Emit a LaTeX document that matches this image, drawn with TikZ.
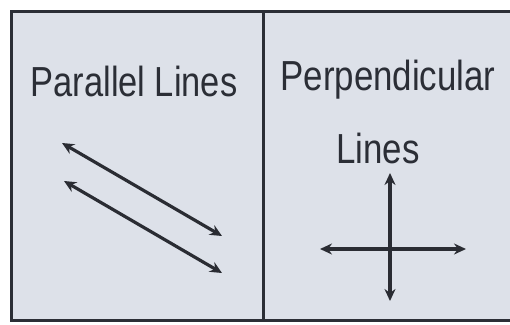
\documentclass[tikz,border=0pt]{standalone}
\usepackage{fontspec}
\setmainfont{Liberation Sans}
\usetikzlibrary{arrows.meta}
\definecolor{paper}{HTML}{DDE1E9}
\definecolor{ink}{HTML}{2B2E36}
\definecolor{arrowink}{HTML}{2A2C33}
\tikzset{
  title/.style={text=ink, font=\fontsize{42}{46}\selectfont, inner sep=0pt, anchor=center},
  linearrow/.style={draw=arrowink, line width=3.2pt, {Stealth[length=12pt,width=11pt]}-{Stealth[length=12pt,width=11pt]}},
  frame/.style={draw=ink, line width=3pt}
}
\begin{document}
\begin{tikzpicture}[x=1pt,y=-1pt]
\useasboundingbox (0,0) rectangle (510,324);
\fill[white] (0,0) rectangle (510,324);
\fill[paper] (11,11.5) rectangle (510,320.5);
\draw[frame] (510,11.5) -- (11,11.5) -- (11,320.5) -- (510,320.5);
\draw[frame] (263.5,11.5) -- (263.5,320.5);
\node[title] (t1) at (134,81) {\scalebox{0.82}[1]{Parallel Lines}};
\node[title] (t2) at (388,80) {\scalebox{0.83}[1]{Perpendicular}};
\node[title] (t3) at (378,148) {\scalebox{0.83}[1]{Lines}};
\coordinate (a1) at (62,143);
\coordinate (b1) at (222,236);
\coordinate (a2) at (64,181);
\coordinate (b2) at (222,273);
\coordinate (v1) at (390,173);
\coordinate (v2) at (390,301);
\coordinate (h1) at (320,249);
\coordinate (h2) at (466,249);
\draw[linearrow] (a1) -- (b1);
\draw[linearrow] (a2) -- (b2);
\draw[linearrow] (v1) -- (v2);
\draw[linearrow] (h1) -- (h2);
\end{tikzpicture}
\end{document}
